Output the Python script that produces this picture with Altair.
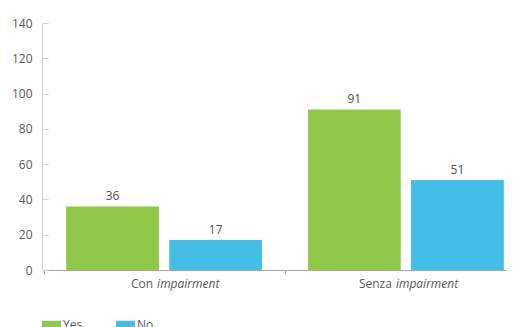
import altair as alt
import pandas as pd

categories = ["Con impairment", "Senza impairment"]
label_prefix = ["Con", "Senza"]
label_suffix = ["impairment", "impairment"]
groups = ["Yes", "No"]
yes_values = [36, 91]
no_values = [17, 51]
colors = ["#92C84A", "#42BEE8"]
y_ticks = [0, 20, 40, 60, 80, 100, 120, 140]

rows = []
for c, y, n in zip(categories, yes_values, no_values):
    rows.append({"cat": c, "group": "Yes", "value": y})
    rows.append({"cat": c, "group": "No", "value": n})
df = pd.DataFrame(rows)
lab = pd.DataFrame({"cat": categories, "pre": label_prefix, "suf": label_suffix})

W, H = 465, 247
FONT = "Open Sans"
TXT = "#595959"

xscale = alt.Scale(domain=categories, range=[0, 486], paddingInner=0.19, paddingOuter=0.1)
yscale = alt.Scale(domain=[0, 140], nice=False)
oscale = alt.Scale(domain=groups, paddingInner=0.1)

base = alt.Chart(df)

bars = base.mark_bar().encode(
    x=alt.X("cat:N", scale=xscale, sort=categories, title=None,
            axis=alt.Axis(labels=False, ticks=False, domain=True, domainColor="#a6a6a6", grid=False, orient="bottom")),
    xOffset=alt.XOffset("group:N", scale=oscale, sort=groups),
    y=alt.Y("value:Q", scale=yscale, title=None,
            axis=alt.Axis(values=y_ticks, ticks=False, domain=True, domainColor="#d0d0d0", grid=False,
                          labelPadding=10, labelFont=FONT, labelFontSize=12, labelColor=TXT, orient="left")),
    color=alt.Color("group:N", scale=alt.Scale(domain=groups, range=colors), title=None,
                    legend=alt.Legend(orient="none", legendX=0, legendY=292, direction="horizontal",
                                      symbolType="M-1,-0.42H1V0.42H-1Z", symbolSize=361, symbolStrokeWidth=0,
                                      labelFont=FONT, labelFontSize=12, labelColor=TXT, labelOffset=2,
                                      columnPadding=33, padding=0)),
)

vals = base.mark_text(baseline="bottom", dy=-3, font=FONT, fontSize=12, color="#505050").encode(
    x=alt.X("cat:N", scale=xscale, sort=categories, title=None,
            axis=alt.Axis(labels=False, ticks=True, tickSize=4, tickColor="#a6a6a6", domain=False,
                          grid=False, bandPosition=-0.113, orient="bottom")),
    xOffset=alt.XOffset("group:N", scale=oscale, sort=groups),
    y=alt.Y("value:Q", scale=yscale, title=None,
            axis=alt.Axis(values=y_ticks, labels=False, ticks=True, tickSize=6, tickColor="#d0d0d0",
                          domain=False, grid=False, offset=-6, orient="left")),
    text="value:Q",
)

pre = alt.Chart(lab).mark_text(align="right", baseline="middle", font=FONT, fontSize=12, color=TXT).encode(
    x=alt.X("cat:N", scale=xscale, sort=categories, axis=None),
    y=alt.value(H + 14),
    text="pre:N",
)
pre1 = pre.transform_filter(alt.datum.cat == categories[0]).mark_text(
    align="right", baseline="middle", font=FONT, fontSize=12, color=TXT, dx=-11)
pre2 = pre.transform_filter(alt.datum.cat == categories[1]).mark_text(
    align="right", baseline="middle", font=FONT, fontSize=12, color=TXT, dx=-14)

suf = alt.Chart(lab).mark_text(align="left", baseline="middle", font=FONT, fontSize=12, color=TXT,
                               fontStyle="italic").encode(
    x=alt.X("cat:N", scale=xscale, sort=categories, axis=None),
    y=alt.value(H + 14),
    text="suf:N",
)
suf1 = suf.transform_filter(alt.datum.cat == categories[0]).mark_text(
    align="left", baseline="middle", font=FONT, fontSize=12, color=TXT, fontStyle="italic", dx=-7)
suf2 = suf.transform_filter(alt.datum.cat == categories[1]).mark_text(
    align="left", baseline="middle", font=FONT, fontSize=12, color=TXT, fontStyle="italic", dx=-10)

chart = alt.layer(bars, vals, pre1, pre2, suf1, suf2).resolve_axis(x="independent", y="independent").properties(
    width=W, height=H,
    autosize=alt.AutoSizeParams(type="none"),
    padding={"left": 34, "top": 15, "right": 0, "bottom": 57},
).configure_view(stroke=None)

chart.save("out.html", embed_options={"renderer": "svg", "actions": False})
